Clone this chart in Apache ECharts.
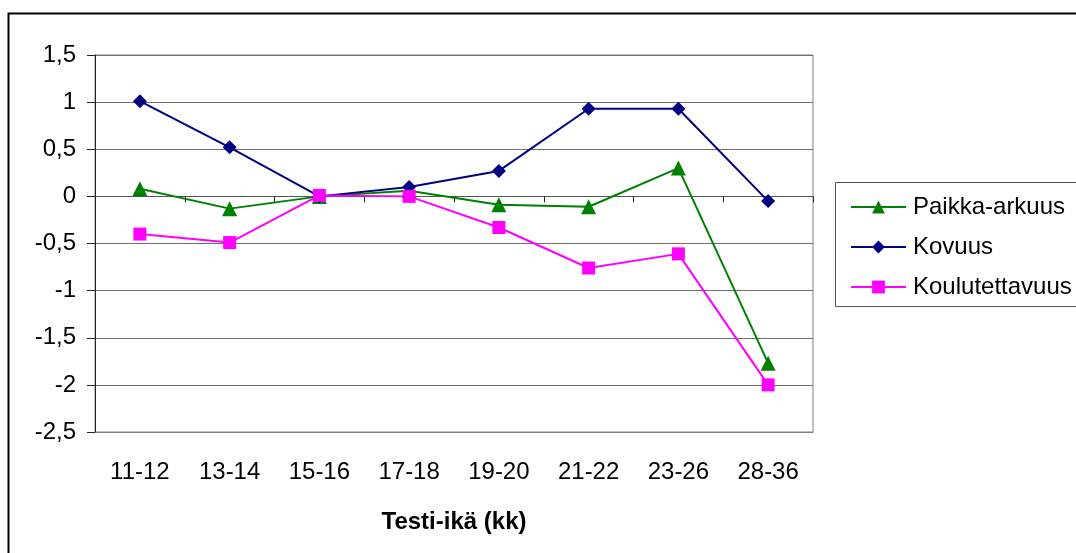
<!DOCTYPE html>
<html>
<head>
<meta charset="utf-8">
<script src="https://cdn.jsdelivr.net/npm/echarts@6/dist/echarts.min.js"></script>
<style>
  html, body { margin: 0; padding: 0; background: #fff; }
  #chart { width: 1076px; height: 553px; }
</style>
</head>
<body>
<div id="chart"></div>
<script>
// Age groups (months) on the x axis
const categories = ['11-12', '13-14', '15-16', '17-18', '19-20', '21-22', '23-26', '28-36'];

// Trait scores per age group
const paikkaArkuus   = [0.08, -0.13, 0.00, 0.06, -0.09, -0.11, 0.30, -1.77];
const kovuus         = [1.01, 0.52, 0.00, 0.10, 0.27, 0.93, 0.93, -0.05];
const koulutettavuus = [-0.40, -0.49, 0.01, 0.00, -0.33, -0.76, -0.61, -2.00];

// Value axis range and step
const yMin = -2.5, yMax = 1.5, yStep = 0.5;

const FONT = "'Liberation Sans', Arial, sans-serif";
const FS = 24;
const fmt = v => String(v).replace('.', ',');

const chart = echarts.init(document.getElementById('chart'), null, { renderer: 'canvas' });

function lineSeries(name, data, color, symbol, size) {
  return {
    name, type: 'line', data,
    xAxisIndex: 0,
    symbol, symbolSize: size,
    lineStyle: { color, width: 2 },
    itemStyle: { color },
    animation: false
  };
}

chart.setOption({
  animation: false,
  backgroundColor: '#fff',
  textStyle: { fontFamily: FONT },
  graphic: [
    // outer chart frame
    { type: 'rect', shape: { x: 8.5, y: 13.5, width: 1100, height: 600 },
      style: { fill: null, stroke: '#000', lineWidth: 2 }, z: -10 },
    // legend frame
    { type: 'rect', shape: { x: 835.5, y: 182.5, width: 300, height: 124 },
      style: { fill: '#fff', stroke: '#555', lineWidth: 1 }, z: -5 }
  ],
  grid: {
    left: 95, right: 263, top: 55, bottom: 121,
    show: true, borderColor: '#808080', borderWidth: 1, backgroundColor: 'transparent'
  },
  legend: {
    orient: 'vertical',
    left: 845, top: 190,
    itemWidth: 55, itemHeight: 16,
    itemGap: 16,
    textStyle: { fontFamily: FONT, fontSize: FS, color: '#000', padding: [0, 0, 0, 2] },
    data: ['Paikka-arkuus', 'Kovuus', 'Koulutettavuus']
  },
  xAxis: [
    {
      type: 'category', data: categories, position: 'bottom',
      axisLine: { show: true, onZero: false, lineStyle: { color: '#808080' } },
      axisTick: { show: false },
      axisLabel: { fontFamily: FONT, fontSize: FS, color: '#000', margin: 28 },
      name: 'Testi-ikä (kk)', nameLocation: 'middle', nameGap: 78,
      nameTextStyle: { fontFamily: FONT, fontSize: FS, fontWeight: 'bold', color: '#000' }
    },
    {
      type: 'category', data: categories, position: 'bottom',
      axisLine: { show: true, onZero: true, lineStyle: { color: '#555' } },
      axisTick: { show: true, length: 6, lineStyle: { color: '#222' } },
      axisLabel: { show: false }
    }
  ],
  yAxis: {
    type: 'value', min: yMin, max: yMax, interval: yStep,
    axisLine: { show: true, lineStyle: { color: '#222' } },
    axisTick: { show: true, length: 8, lineStyle: { color: '#222' } },
    axisLabel: { fontFamily: FONT, fontSize: FS, color: '#000', margin: 19, formatter: fmt },
    splitLine: { show: true, lineStyle: { color: '#6e6e6e', width: 1 } }
  },
  series: [
    lineSeries('Paikka-arkuus', paikkaArkuus, '#008000', 'triangle', 15),
    lineSeries('Kovuus', kovuus, '#000080', 'diamond', 14),
    lineSeries('Koulutettavuus', koulutettavuus, '#FF00FF', 'rect', 13)
  ]
});
</script>
</body>
</html>
